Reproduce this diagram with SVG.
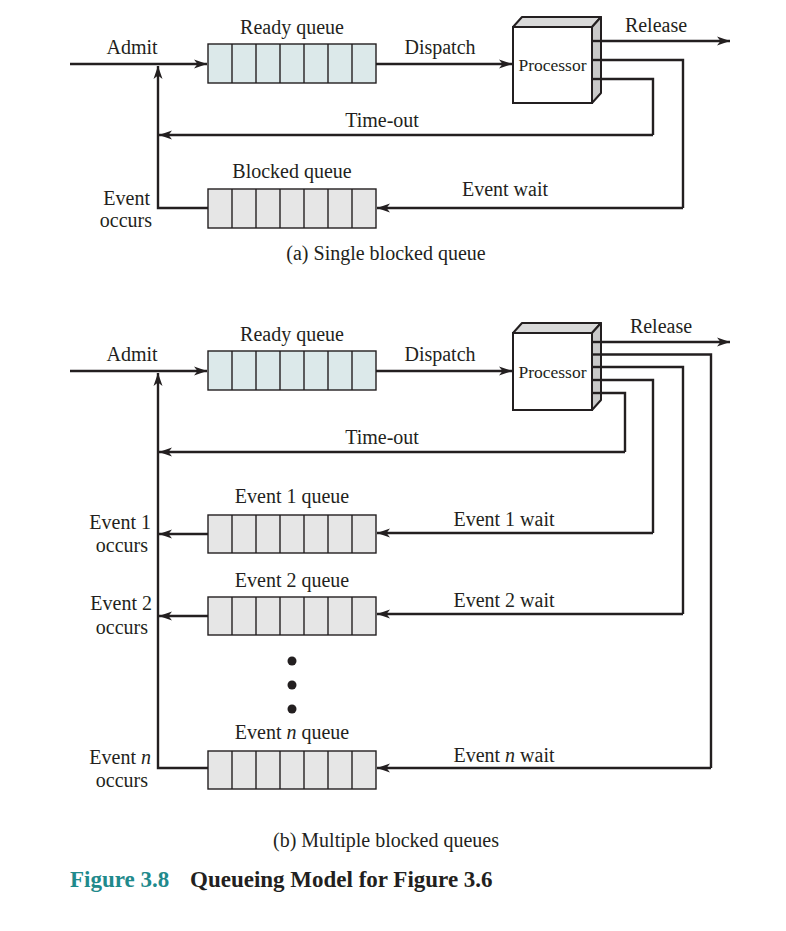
<svg xmlns="http://www.w3.org/2000/svg" width="786" height="931" viewBox="0 0 786 931">
<defs>
<marker id="ah" markerUnits="userSpaceOnUse" markerWidth="14" markerHeight="10" refX="13" refY="5" orient="auto">
<path d="M0,0.5 L13,5 L0,9.5 L3.5,5 z" fill="#231f20"/>
</marker>
<g id="cells">
<line x1="232" y1="0" x2="232" y2="39"/><line x1="256" y1="0" x2="256" y2="39"/><line x1="280" y1="0" x2="280" y2="39"/><line x1="304" y1="0" x2="304" y2="39"/><line x1="328" y1="0" x2="328" y2="39"/><line x1="352" y1="0" x2="352" y2="39"/>
</g>
</defs>
<style>
.t{font-family:"Liberation Serif","Times New Roman",serif;font-size:20px;fill:#231f20}
.m{text-anchor:middle}
.r{text-anchor:end}
.p{font-size:17.5px}
.ln{fill:none;stroke:#231f20;stroke-width:2.4}
.ar{marker-end:url(#ah)}
.q{stroke:#231f20;stroke-width:1.4}
.qr{fill:#dce9ea}
.qb{fill:#e6e6e6}
.front{fill:#fff;stroke:#231f20;stroke-width:2}
.side{fill:#c9c9c9;stroke:#231f20;stroke-width:2;stroke-linejoin:round}
.top{fill:#d9d9d9;stroke:#231f20;stroke-width:2;stroke-linejoin:round}
.tick{stroke:#231f20;stroke-width:2.4}
.cap{font-family:"Liberation Serif","Times New Roman",serif;font-size:23px;font-weight:bold}
</style>
<rect width="786" height="931" fill="#fff"/>

<!-- ===== (a) ===== -->
<g id="connectors-a">
<path class="ln ar" d="M70,64 H207"/>
<path class="ln ar" d="M376,64 H512"/>
<path class="ln ar" d="M593,41 H730"/>
<path class="ln" d="M593,60 H683 V208"/>
<path class="ln ar" d="M683,208 H377"/>
<path class="ln" d="M593,79 H653 V135"/>
<path class="ln ar" d="M653,135 H159"/>
<path class="ln ar" d="M208,208 H158 V66"/>
</g>
<g id="ready-queue-a">
<rect class="q qr" x="208" y="44" width="168" height="39"/>
<use href="#cells" class="q" transform="translate(0,44)"/>
<text class="t m" x="292" y="34">Ready queue</text>
</g>
<g id="processor-a">
<path class="top" d="M513,27 L522,17 L601,17 L592,27 z"/>
<path class="side" d="M592,27 L601,17 L601,93 L592,103 z"/>
<rect class="front" x="513" y="27" width="79" height="76"/>
<line class="tick" x1="592" y1="41" x2="600" y2="41"/>
<line class="tick" x1="592" y1="60" x2="600" y2="60"/>
<line class="tick" x1="592" y1="79" x2="600" y2="79"/>
<text class="t m p" x="552.5" y="71">Processor</text>
</g>
<g id="blocked-queue-a">
<rect class="q qb" x="208" y="189" width="168" height="39"/>
<use href="#cells" class="q" transform="translate(0,189)"/>
<text class="t m" x="292" y="178">Blocked queue</text>
</g>
<g id="labels-a">
<text class="t m" x="132" y="54">Admit</text>
<text class="t m" x="440" y="54">Dispatch</text>
<text class="t m" x="656" y="32">Release</text>
<text class="t m" x="382" y="127">Time-out</text>
<text class="t m" x="505" y="196">Event wait</text>
<text class="t r" x="150" y="205">Event</text>
<text class="t r" x="152" y="227">occurs</text>
<text class="t m" x="386" y="260">(a) Single blocked queue</text>
</g>

<!-- ===== (b) ===== -->
<g id="connectors-b">
<path class="ln ar" d="M70,371 H207"/>
<path class="ln ar" d="M376,371 H512"/>
<path class="ln ar" d="M593,342 H730"/>
<path class="ln" d="M593,354.5 H711 V768"/>
<path class="ln ar" d="M711,768 H377"/>
<path class="ln" d="M593,367 H683 V614"/>
<path class="ln ar" d="M683,614 H377"/>
<path class="ln" d="M593,380 H653 V533"/>
<path class="ln ar" d="M653,533 H377"/>
<path class="ln" d="M593,393 H625 V452"/>
<path class="ln ar" d="M625,452 H159"/>
<path class="ln ar" d="M208,768 H158 V373"/>
<path class="ln ar" d="M208,534 H159"/>
<path class="ln ar" d="M208,616 H159"/>
</g>
<g id="ready-queue-b">
<rect class="q qr" x="208" y="351" width="168" height="39"/>
<use href="#cells" class="q" transform="translate(0,351)"/>
<text class="t m" x="292" y="341">Ready queue</text>
</g>
<g id="processor-b">
<path class="top" d="M513,333 L522,323 L601,323 L592,333 z"/>
<path class="side" d="M592,333 L601,323 L601,400 L592,410 z"/>
<rect class="front" x="513" y="333" width="79" height="77"/>
<line class="tick" x1="592" y1="342" x2="600" y2="342"/>
<line class="tick" x1="592" y1="354.5" x2="600" y2="354.5"/>
<line class="tick" x1="592" y1="367" x2="600" y2="367"/>
<line class="tick" x1="592" y1="380" x2="600" y2="380"/>
<line class="tick" x1="592" y1="393" x2="600" y2="393"/>
<text class="t m p" x="552.5" y="378">Processor</text>
</g>
<g id="event1-queue">
<rect class="q qb" x="208" y="515" width="168" height="38"/>
<use href="#cells" class="q" transform="translate(0,515) scale(1,0.975)"/>
<text class="t m" x="292" y="503">Event 1 queue</text>
</g>
<g id="event2-queue">
<rect class="q qb" x="208" y="597" width="168" height="38"/>
<use href="#cells" class="q" transform="translate(0,597) scale(1,0.975)"/>
<text class="t m" x="292" y="587">Event 2 queue</text>
</g>
<g id="ellipsis">
<circle cx="292" cy="661" r="4.5" fill="#231f20"/>
<circle cx="292" cy="685" r="4.5" fill="#231f20"/>
<circle cx="292" cy="709" r="4.5" fill="#231f20"/>
</g>
<g id="eventn-queue">
<rect class="q qb" x="208" y="751" width="168" height="38"/>
<use href="#cells" class="q" transform="translate(0,751) scale(1,0.975)"/>
<text class="t m" x="292" y="739">Event <tspan font-style="italic">n</tspan> queue</text>
</g>
<g id="labels-b">
<text class="t m" x="132" y="361">Admit</text>
<text class="t m" x="440" y="361">Dispatch</text>
<text class="t m" x="661" y="333">Release</text>
<text class="t m" x="382" y="444">Time-out</text>
<text class="t m" x="504" y="526">Event 1 wait</text>
<text class="t m" x="504" y="607">Event 2 wait</text>
<text class="t m" x="504" y="762">Event <tspan font-style="italic">n</tspan> wait</text>
<text class="t r" x="151" y="529">Event 1</text>
<text class="t r" x="148" y="552">occurs</text>
<text class="t r" x="152" y="610">Event 2</text>
<text class="t r" x="148" y="634">occurs</text>
<text class="t r" x="151" y="764">Event <tspan font-style="italic">n</tspan></text>
<text class="t r" x="148" y="787">occurs</text>
<text class="t m" x="386" y="847">(b) Multiple blocked queues</text>
</g>
<g id="caption">
<text class="cap" x="70" y="887" fill="#1f8a8c">Figure 3.8</text>
<text class="cap" x="190" y="887" fill="#231f20">Queueing Model for Figure 3.6</text>
</g>
</svg>
